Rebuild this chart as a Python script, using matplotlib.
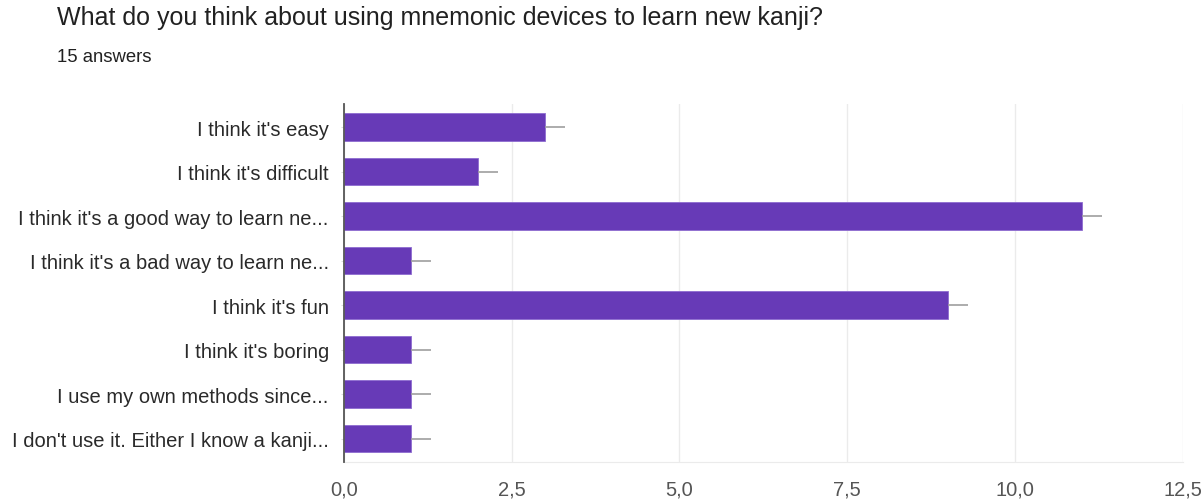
import numpy as np
import matplotlib.pyplot as plt
from matplotlib.ticker import FuncFormatter

plt.rcParams['font.family'] = ['Liberation Sans', 'DejaVu Sans']

answers = ["I think it's easy",
           "I think it's difficult",
           "I think it's a good way to learn ne...",
           "I think it's a bad way to learn ne...",
           "I think it's fun",
           "I think it's boring",
           "I use my own methods since...",
           "I don't use it. Either I know a kanji..."]
counts = [3, 2, 11, 1, 9, 1, 1, 1]
xticks = [0, 2.5, 5, 7.5, 10, 12.5]

fig = plt.figure(figsize=(12.03, 5.02), dpi=100)
ax = fig.add_axes([0.286, 0.078, 0.697, 0.713])

y = np.arange(len(answers))
ax.barh(y, counts, height=0.62, color='#673ab7', edgecolor='#8e6bd0', linewidth=0.6,
        xerr=[np.zeros(len(counts)), np.full(len(counts), 0.3)],
        error_kw=dict(ecolor='#9e9e9e', elinewidth=1.2, capsize=0), zorder=3)

ax.set_ylim(len(answers) - 0.48, -0.52)
ax.set_xlim(0, 12.5)
ax.set_yticks(y)
ax.set_yticklabels(answers, fontsize=14.5, color='#2a2a2a')
ax.set_xticks(xticks)
ax.xaxis.set_major_formatter(FuncFormatter(lambda v, p: f"{v:.1f}".replace('.', ',')))
ax.tick_params(axis='x', length=0, labelsize=14.5, labelcolor='#555555', pad=13)
ax.tick_params(axis='y', length=2, color='#dddddd', pad=9)
ax.grid(axis='x', color='#ebebeb', linewidth=1, zorder=0)

for s in ['top', 'right']:
    ax.spines[s].set_visible(False)
ax.spines['bottom'].set_color('#ebebeb')
ax.spines['left'].set_color('#555555')
ax.spines['left'].set_linewidth(1.3)
ax.spines['left'].set_zorder(4)

fig.text(57 / 1203, 1 - 18 / 502, "What do you think about using mnemonic devices to learn new kanji?",
         fontsize=18, color='#212121', va='center', ha='left')
fig.text(57 / 1203, 1 - 57 / 502, "15 answers", fontsize=13.3, color='#212121', va='center', ha='left')

fig.savefig('out.png', dpi=100, facecolor='white')
